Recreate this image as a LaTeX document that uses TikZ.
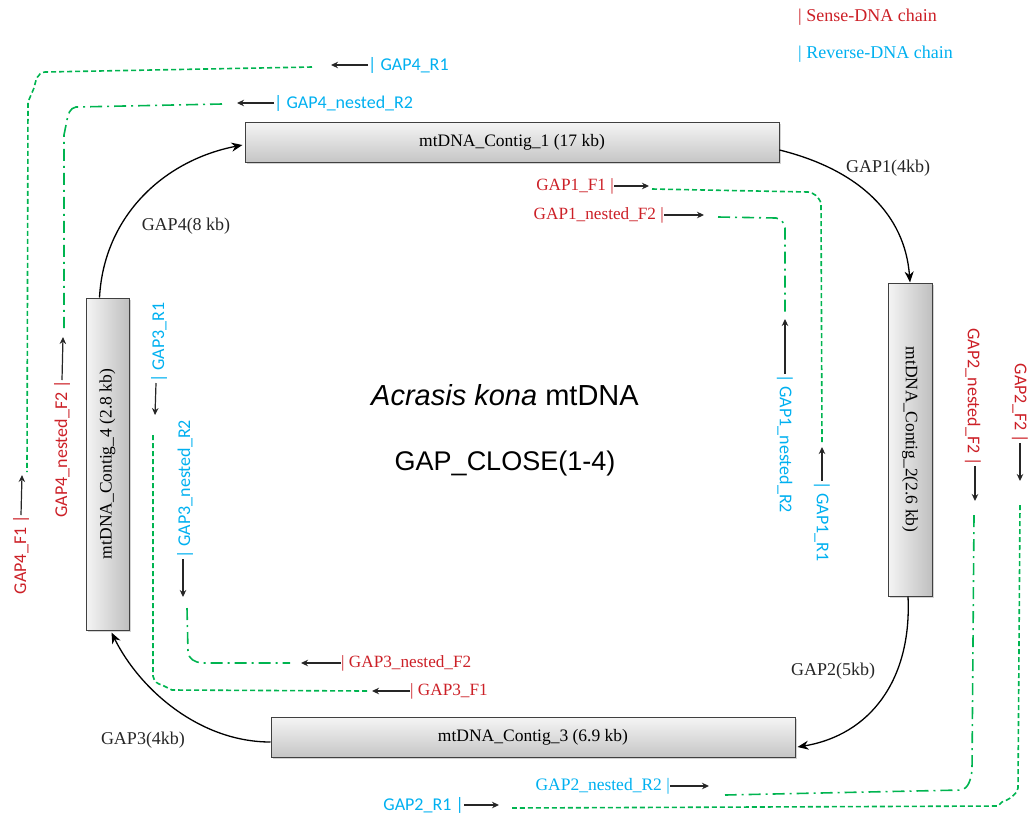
\documentclass[tikz,border=0pt]{standalone}
\usepackage{fontspec}
\setmainfont{Liberation Serif}
\newfontfamily\labsans{Carlito}
\newfontfamily\arialf{Liberation Sans}
\usetikzlibrary{shadows,arrows.meta}
\definecolor{sensered}{RGB}{204,32,39}
\definecolor{revblue}{RGB}{0,176,240}
\definecolor{pgreen}{RGB}{0,180,80}
\tikzset{
  contigh/.style={draw=black!75, line width=1pt, top color=gray!8, bottom color=gray!45, inner sep=0pt,
     drop shadow={opacity=0.35, shadow xshift=1.5pt, shadow yshift=-1.5pt},
     font=\fontsize{17.5}{19}\selectfont},
  contigv/.style={draw=black!75, line width=1pt, left color=gray!8, right color=gray!50, inner sep=0pt,
     drop shadow={opacity=0.35, shadow xshift=1.5pt, shadow yshift=-1.5pt}},
  contigtext/.style={font=\fontsize{17.5}{19}\selectfont},
  gaparrow/.style={black, line width=1.3pt, -{Stealth[length=11pt,width=9pt]}},
  gaplabel/.style={font=\fontsize{18}{20}\selectfont, text=black!85, inner sep=0pt},
  pa/.style={black!85, line width=1.2pt, -{Stealth[length=7pt,width=6.5pt]}},
  sensS/.style={text=sensered, font=\fontsize{17.2}{19}\selectfont, inner sep=0pt},
  sensA/.style={text=sensered, font=\labsans\fontsize{18}{19}\selectfont, inner sep=0pt},
  revA/.style={text=revblue, font=\labsans\fontsize{18}{19}\selectfont, inner sep=0pt},
  revS/.style={text=revblue, font=\fontsize{17.5}{19}\selectfont, inner sep=0pt},
  gdash/.style={pgreen, line width=1.6pt, dash pattern=on 5pt off 3pt},
  gdashdot/.style={pgreen, line width=1.6pt, dash pattern=on 12pt off 5pt on 2pt off 5pt},
}
\begin{document}
\begin{tikzpicture}[x=1pt,y=-1pt]
\useasboundingbox (0,0) rectangle (1028,820);

% contigs
\node[contigh, minimum width=534pt, minimum height=40pt] (c1) at (512,142) {mtDNA\_Contig\_1 (17 kb)};
\node[contigv, minimum width=44pt, minimum height=313pt] (c2) at (910,439.5) {};
\node[contigtext, rotate=-90] (c2t) at (c2.center) {mtDNA\_Contig\_2(2.6 kb)};
\node[contigh, minimum width=524pt, minimum height=40pt] (c3) at (533,737) {mtDNA\_Contig\_3 (6.9 kb)};
\node[contigv, minimum width=43pt, minimum height=332pt] (c4) at (107.5,464) {};
\node[contigtext, rotate=90] (c4t) at (c4.center) {mtDNA\_Contig\_4 (2.8 kb)};

% gap arrows
\draw[gaparrow] ([yshift=-8pt]c1.east) .. controls (860,170) and (905,215) .. (c2.north);
\draw[gaparrow] ([xshift=-2pt]c2.south) .. controls (912,680) and (870,735) .. ([yshift=-10pt,xshift=2pt]c3.east);
\draw[gaparrow] ([yshift=-5pt]c3.west) .. controls (200,742) and (140,690) .. ([xshift=4pt,yshift=-2pt]c4.south);
\draw[gaparrow] ([xshift=-8pt]c4.north) .. controls (104,215) and (165,160) .. ([xshift=-2pt,yshift=-3pt]c1.west);
\node[gaplabel] (g1) at (888,168) {GAP1(4kb)};
\node[gaplabel] (g2) at (833,671) {GAP2(5kb)};
\node[gaplabel] (g3) at (143,740) {GAP3(4kb)};
\node[gaplabel] (g4) at (186,226) {GAP4(8 kb)};

% centre text
\node[font=\arialf\fontsize{29}{32}\selectfont] (t1) at (505,395) {\textit{Acrasis kona} mtDNA};
\node[font=\arialf\fontsize{27}{30}\selectfont] (t2) at (505,464) {GAP\_CLOSE(1-4)};

% legend
\node[sensS, font=\fontsize{18}{19}\selectfont, anchor=west] (l1) at (798,17) {| Sense-DNA chain};
\node[revS, font=\fontsize{18}{19}\selectfont, anchor=west] (l2) at (798,54) {| Reverse-DNA chain};

% ---- GAP4 primers
\node[revA, anchor=west] (r41) at (368,65) {| GAP4\_R1};
\coordinate (r41a) at (331,65);
\draw[pa] (r41.west) -- (r41a);
\coordinate (r41g) at (312,67);
\node[sensA, rotate=90, anchor=east] (f41) at (21,515) {GAP4\_F1 |};
\coordinate (f41a) at (22,475);
\draw[pa] (f41.east) -- (f41a);
\coordinate (f41g) at (27,472);
\draw[gdash] (r41g) -- (45,72) .. controls (37,73) and (36,80) .. (34,88) -- (28,102) -- (f41g);

\node[revA, anchor=west] (r42) at (274,103) {| GAP4\_nested\_R2};
\coordinate (r42a) at (237,103);
\draw[pa] (r42.west) -- (r42a);
\coordinate (r42g) at (222,104);
\node[sensA, rotate=90, anchor=east] (f42) at (62,380) {GAP4\_nested\_F2 |};
\coordinate (f42a) at (63,337);
\draw[pa] (f42.east) -- (f42a);
\coordinate (f42g) at (64,328);
\draw[gdashdot] (r42g) -- (76,107) .. controls (70,108) and (68,114) .. (67,120) -- (64,135) -- (f42g);

% ---- GAP1 primers
\node[sensS, anchor=east] (f11) at (614,186) {GAP1\_F1 |};
\coordinate (f11a) at (649,186);
\draw[pa] (f11.east) -- (f11a);
\coordinate (f11g) at (652,189);
\node[revA, rotate=-90, anchor=west] (r11) at (822,481) {| GAP1\_R1};
\coordinate (r11a) at (822,447);
\draw[pa] (r11.west) -- (r11a);
\coordinate (r11g) at (822,443);
\draw[gdash] (f11g) -- (808,192) .. controls (814,193) and (818,196) .. (821,203) -- (r11g);

\node[sensS, anchor=east] (f12) at (664,215) {GAP1\_nested\_F2 |};
\coordinate (f12a) at (704,215);
\draw[pa] (f12.east) -- (f12a);
\coordinate (f12g) at (718,217);
\node[revA, rotate=-90, anchor=west] (r12) at (785,374) {| GAP1\_nested\_R2};
\coordinate (r12a) at (785,319);
\draw[pa] (r12.west) -- (r12a);
\coordinate (r12g) at (785,312);
\draw[gdashdot] (f12g) -- (776,218) .. controls (781,219) and (784,222) .. (785,228) -- (r12g);

% ---- GAP2 primers
\node[sensA, rotate=-90, anchor=east] (f22) at (973,466) {GAP2\_nested\_F2 |};
\coordinate (f22a) at (975,501);
\draw[pa] ([xshift=2pt]f22.east) -- (f22a);
\coordinate (f22g) at (974,515);
\node[revS, anchor=east] (r22) at (670,786) {GAP2\_nested\_R2 |};
\coordinate (r22a) at (709,786);
\draw[pa] (r22.east) -- (r22a);
\coordinate (r22g) at (725,795);
\draw[gdashdot] (f22g) -- (972,770) .. controls (971,780) and (968,788) .. (962,790) -- (r22g);

\node[sensA, rotate=-90, anchor=east] (f21) at (1020,443) {GAP2\_F2 |};
\coordinate (f21a) at (1020,481);
\draw[pa] (f21.east) -- (f21a);
\coordinate (f21g) at (1020,505);
\node[revA, anchor=east] (r21) at (464,805) {GAP2\_R1 |};
\coordinate (r21a) at (499,805);
\draw[pa] (r21.east) -- (r21a);
\coordinate (r21g) at (512,808);
\draw[gdash] (f21g) -- (1018,788) .. controls (1016,796) and (1008,800) .. (1002,802) -- (998,806) -- (r21g);

% ---- GAP3 primers
\node[revA, rotate=90, anchor=west] (r31) at (159,383) {| GAP3\_R1};
\coordinate (r31a) at (155,415);
\draw[pa] ([xshift=-3pt]r31.west) -- (r31a);
\coordinate (r31g) at (153,435);
\node[sensS, anchor=west] (f31) at (410,691) {| GAP3\_F1};
\coordinate (f31a) at (372,691);
\draw[pa] (f31.west) -- (f31a);
\coordinate (f31g) at (367,691);
\draw[gdash] (r31g) -- (153,676) .. controls (154,682) and (158,684) .. (162,685) -- (172,690) -- (f31g);

\node[revA, rotate=90, anchor=west] (r32) at (185,559) {| GAP3\_nested\_R2};
\coordinate (r32a) at (183,597);
\draw[pa] ([xshift=-2pt]r32.west) -- (r32a);
\coordinate (r32g) at (187,608);
\node[sensS, anchor=west] (f32) at (341,663) {| GAP3\_nested\_F2};
\coordinate (f32a) at (301,663);
\draw[pa] (f32.west) -- (f32a);
\coordinate (f32g) at (290,663);
\draw[gdashdot] (r32g) -- (188,652) .. controls (189,659) and (194,662) .. (202,663) -- (f32g);
\end{tikzpicture}
\end{document}
